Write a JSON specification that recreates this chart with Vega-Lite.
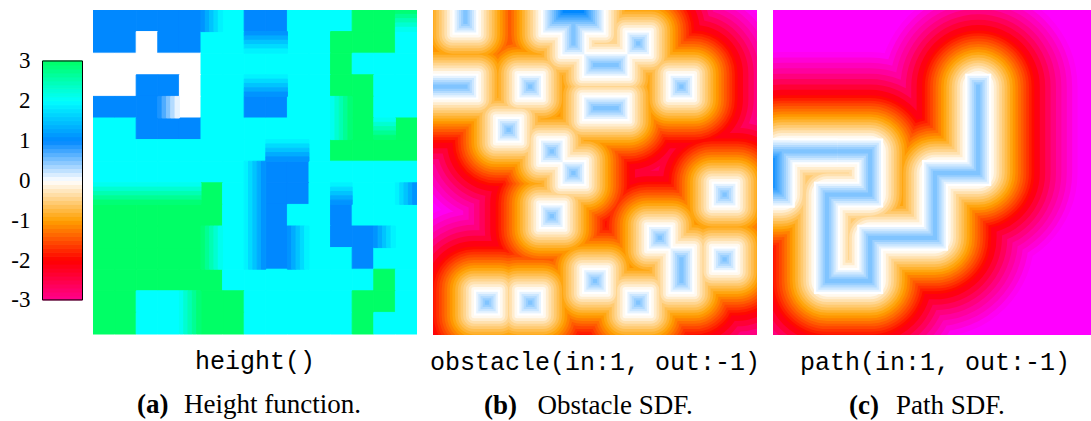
{"$schema":"https://vega.github.io/schema/vega-lite/v6.json","padding":{"left":10,"top":10,"right":0,"bottom":4},"bounds":"flush","spacing":16,"background":"white","config":{"view":{"stroke":null},"legend":{"disable":true}},
"datasets":{
"cells":[
{"x":0,"x2":1,"y":0,"y2":1,"v":1},{"x":1,"x2":2,"y":0,"y2":1,"v":1},{"x":2,"x2":3,"y":0,"y2":1,"v":1},{"x":3,"x2":4,"y":0,"y2":1,"v":1},{"x":4,"x2":5,"y":0,"y2":1,"v":1},{"x":6,"x2":7,"y":0,"y2":1,"v":2},{"x":7,"x2":8,"y":0,"y2":1,"v":1},{"x":8,"x2":9,"y":0,"y2":1,"v":1},{"x":9,"x2":10,"y":0,"y2":1,"v":2},{"x":10,"x2":11,"y":0,"y2":1,"v":2},{"x":11,"x2":12,"y":0,"y2":1,"v":2},{"x":12,"x2":13,"y":0,"y2":1,"v":3},{"x":13,"x2":14,"y":0,"y2":1,"v":3},
{"x":0,"x2":1,"y":1,"y2":2,"v":1},{"x":1,"x2":2,"y":1,"y2":2,"v":1},{"x":2,"x2":3,"y":1,"y2":2,"v":0},{"x":3,"x2":4,"y":1,"y2":2,"v":1},{"x":4,"x2":5,"y":1,"y2":2,"v":1},{"x":5,"x2":6,"y":1,"y2":2,"v":2},{"x":6,"x2":7,"y":1,"y2":2,"v":2},{"x":9,"x2":10,"y":1,"y2":2,"v":2},{"x":10,"x2":11,"y":1,"y2":2,"v":2},{"x":11,"x2":12,"y":1,"y2":2,"v":3},{"x":12,"x2":13,"y":1,"y2":2,"v":3},{"x":13,"x2":14,"y":1,"y2":2,"v":3},{"x":14,"x2":15,"y":1,"y2":2,"v":2},
{"x":0,"x2":1,"y":2,"y2":3,"v":0},{"x":1,"x2":2,"y":2,"y2":3,"v":0},{"x":2,"x2":3,"y":2,"y2":3,"v":0},{"x":3,"x2":4,"y":2,"y2":3,"v":0},{"x":4,"x2":5,"y":2,"y2":3,"v":0},{"x":5,"x2":6,"y":2,"y2":3,"v":2},{"x":6,"x2":7,"y":2,"y2":3,"v":2},{"x":7,"x2":8,"y":2,"y2":3,"v":2},{"x":8,"x2":9,"y":2,"y2":3,"v":2},{"x":9,"x2":10,"y":2,"y2":3,"v":2},{"x":10,"x2":11,"y":2,"y2":3,"v":2},{"x":11,"x2":12,"y":2,"y2":3,"v":3},{"x":12,"x2":13,"y":2,"y2":3,"v":2},{"x":13,"x2":14,"y":2,"y2":3,"v":2},{"x":14,"x2":15,"y":2,"y2":3,"v":2},
{"x":0,"x2":1,"y":3,"y2":4,"v":0},{"x":1,"x2":2,"y":3,"y2":4,"v":0},{"x":2,"x2":3,"y":3,"y2":4,"v":1},{"x":3,"x2":4,"y":3,"y2":4,"v":1},{"x":4,"x2":5,"y":3,"y2":4,"v":0},{"x":5,"x2":6,"y":3,"y2":4,"v":2},{"x":6,"x2":7,"y":3,"y2":4,"v":2},{"x":9,"x2":10,"y":3,"y2":4,"v":2},{"x":10,"x2":11,"y":3,"y2":4,"v":2},{"x":11,"x2":12,"y":3,"y2":4,"v":3},{"x":12,"x2":13,"y":3,"y2":4,"v":3},{"x":13,"x2":14,"y":3,"y2":4,"v":2},{"x":14,"x2":15,"y":3,"y2":4,"v":2},
{"x":0,"x2":1,"y":4,"y2":5,"v":1},{"x":1,"x2":2,"y":4,"y2":5,"v":1},{"x":2,"x2":3,"y":4,"y2":5,"v":1},{"x":4,"x2":5,"y":4,"y2":5,"v":0},{"x":5,"x2":6,"y":4,"y2":5,"v":2},{"x":6,"x2":7,"y":4,"y2":5,"v":2},{"x":7,"x2":8,"y":4,"y2":5,"v":1},{"x":8,"x2":9,"y":4,"y2":5,"v":1},{"x":9,"x2":10,"y":4,"y2":5,"v":2},{"x":10,"x2":11,"y":4,"y2":5,"v":2},{"x":12,"x2":13,"y":4,"y2":5,"v":3},{"x":13,"x2":14,"y":4,"y2":5,"v":2},{"x":14,"x2":15,"y":4,"y2":5,"v":2},
{"x":0,"x2":1,"y":5,"y2":6,"v":2},{"x":1,"x2":2,"y":5,"y2":6,"v":2},{"x":2,"x2":3,"y":5,"y2":6,"v":1},{"x":3,"x2":4,"y":5,"y2":6,"v":1},{"x":4,"x2":5,"y":5,"y2":6,"v":1},{"x":5,"x2":6,"y":5,"y2":6,"v":2},{"x":6,"x2":7,"y":5,"y2":6,"v":2},{"x":7,"x2":8,"y":5,"y2":6,"v":2},{"x":8,"x2":9,"y":5,"y2":6,"v":2},{"x":9,"x2":10,"y":5,"y2":6,"v":2},{"x":10,"x2":11,"y":5,"y2":6,"v":2},{"x":12,"x2":13,"y":5,"y2":6,"v":3},{"x":14,"x2":15,"y":5,"y2":6,"v":3},
{"x":0,"x2":1,"y":6,"y2":7,"v":2},{"x":1,"x2":2,"y":6,"y2":7,"v":2},{"x":2,"x2":3,"y":6,"y2":7,"v":2},{"x":3,"x2":4,"y":6,"y2":7,"v":2},{"x":4,"x2":5,"y":6,"y2":7,"v":2},{"x":5,"x2":6,"y":6,"y2":7,"v":2},{"x":6,"x2":7,"y":6,"y2":7,"v":2},{"x":7,"x2":8,"y":6,"y2":7,"v":2},{"x":10,"x2":11,"y":6,"y2":7,"v":2},{"x":11,"x2":12,"y":6,"y2":7,"v":3},{"x":12,"x2":13,"y":6,"y2":7,"v":3},{"x":13,"x2":14,"y":6,"y2":7,"v":3},{"x":14,"x2":15,"y":6,"y2":7,"v":3},
{"x":0,"x2":1,"y":7,"y2":8,"v":2},{"x":1,"x2":2,"y":7,"y2":8,"v":2},{"x":2,"x2":3,"y":7,"y2":8,"v":2},{"x":3,"x2":4,"y":7,"y2":8,"v":2},{"x":4,"x2":5,"y":7,"y2":8,"v":2},{"x":5,"x2":6,"y":7,"y2":8,"v":2},{"x":6,"x2":7,"y":7,"y2":8,"v":2},{"x":8,"x2":9,"y":7,"y2":8,"v":1},{"x":9,"x2":10,"y":7,"y2":8,"v":1},{"x":10,"x2":11,"y":7,"y2":8,"v":2},{"x":11,"x2":12,"y":7,"y2":8,"v":2},{"x":12,"x2":13,"y":7,"y2":8,"v":2},{"x":13,"x2":14,"y":7,"y2":8,"v":2},{"x":14,"x2":15,"y":7,"y2":8,"v":2},
{"x":5,"x2":6,"y":8,"y2":9,"v":3},{"x":6,"x2":7,"y":8,"y2":9,"v":2},{"x":8,"x2":9,"y":8,"y2":9,"v":1},{"x":9,"x2":10,"y":8,"y2":9,"v":1},{"x":10,"x2":11,"y":8,"y2":9,"v":2},{"x":12,"x2":13,"y":8,"y2":9,"v":2},{"x":13,"x2":14,"y":8,"y2":9,"v":2},
{"x":0,"x2":1,"y":9,"y2":10,"v":3},{"x":1,"x2":2,"y":9,"y2":10,"v":3},{"x":2,"x2":3,"y":9,"y2":10,"v":3},{"x":3,"x2":4,"y":9,"y2":10,"v":3},{"x":4,"x2":5,"y":9,"y2":10,"v":3},{"x":5,"x2":6,"y":9,"y2":10,"v":3},{"x":6,"x2":7,"y":9,"y2":10,"v":2},{"x":8,"x2":9,"y":9,"y2":10,"v":1},{"x":9,"x2":10,"y":9,"y2":10,"v":2},{"x":10,"x2":11,"y":9,"y2":10,"v":2},{"x":11,"x2":12,"y":9,"y2":10,"v":1},{"x":12,"x2":13,"y":9,"y2":10,"v":2},{"x":13,"x2":14,"y":9,"y2":10,"v":2},{"x":14,"x2":15,"y":9,"y2":10,"v":2},
{"x":0,"x2":1,"y":10,"y2":11,"v":3},{"x":1,"x2":2,"y":10,"y2":11,"v":3},{"x":2,"x2":3,"y":10,"y2":11,"v":3},{"x":3,"x2":4,"y":10,"y2":11,"v":3},{"x":4,"x2":5,"y":10,"y2":11,"v":3},{"x":6,"x2":7,"y":10,"y2":11,"v":2},{"x":8,"x2":9,"y":10,"y2":11,"v":1},{"x":10,"x2":11,"y":10,"y2":11,"v":2},{"x":11,"x2":12,"y":10,"y2":11,"v":1},{"x":12,"x2":13,"y":10,"y2":11,"v":1},{"x":14,"x2":15,"y":10,"y2":11,"v":2},
{"x":0,"x2":1,"y":11,"y2":12,"v":3},{"x":1,"x2":2,"y":11,"y2":12,"v":3},{"x":2,"x2":3,"y":11,"y2":12,"v":3},{"x":3,"x2":4,"y":11,"y2":12,"v":3},{"x":4,"x2":5,"y":11,"y2":12,"v":3},{"x":6,"x2":7,"y":11,"y2":12,"v":2},{"x":8,"x2":9,"y":11,"y2":12,"v":1},{"x":10,"x2":11,"y":11,"y2":12,"v":2},{"x":11,"x2":12,"y":11,"y2":12,"v":2},{"x":12,"x2":13,"y":11,"y2":12,"v":1},{"x":13,"x2":14,"y":11,"y2":12,"v":2},{"x":14,"x2":15,"y":11,"y2":12,"v":2},
{"x":0,"x2":1,"y":12,"y2":13,"v":3},{"x":1,"x2":2,"y":12,"y2":13,"v":3},{"x":2,"x2":3,"y":12,"y2":13,"v":3},{"x":3,"x2":4,"y":12,"y2":13,"v":3},{"x":4,"x2":5,"y":12,"y2":13,"v":3},{"x":5,"x2":6,"y":12,"y2":13,"v":3},{"x":6,"x2":7,"y":12,"y2":13,"v":2},{"x":7,"x2":8,"y":12,"y2":13,"v":2},{"x":8,"x2":9,"y":12,"y2":13,"v":2},{"x":9,"x2":10,"y":12,"y2":13,"v":2},{"x":10,"x2":11,"y":12,"y2":13,"v":2},{"x":11,"x2":12,"y":12,"y2":13,"v":2},{"x":12,"x2":13,"y":12,"y2":13,"v":2},{"x":13,"x2":14,"y":12,"y2":13,"v":3},{"x":14,"x2":15,"y":12,"y2":13,"v":2},
{"x":0,"x2":1,"y":13,"y2":14,"v":3},{"x":1,"x2":2,"y":13,"y2":14,"v":3},{"x":2,"x2":3,"y":13,"y2":14,"v":2},{"x":3,"x2":4,"y":13,"y2":14,"v":2},{"x":5,"x2":6,"y":13,"y2":14,"v":3},{"x":6,"x2":7,"y":13,"y2":14,"v":3},{"x":7,"x2":8,"y":13,"y2":14,"v":2},{"x":8,"x2":9,"y":13,"y2":14,"v":2},{"x":9,"x2":10,"y":13,"y2":14,"v":2},{"x":10,"x2":11,"y":13,"y2":14,"v":2},{"x":11,"x2":12,"y":13,"y2":14,"v":2},{"x":12,"x2":13,"y":13,"y2":14,"v":3},{"x":13,"x2":14,"y":13,"y2":14,"v":3},{"x":14,"x2":15,"y":13,"y2":14,"v":2},
{"x":0,"x2":1,"y":14,"y2":15,"v":3},{"x":1,"x2":2,"y":14,"y2":15,"v":3},{"x":2,"x2":3,"y":14,"y2":15,"v":2},{"x":3,"x2":4,"y":14,"y2":15,"v":2},{"x":5,"x2":6,"y":14,"y2":15,"v":3},{"x":6,"x2":7,"y":14,"y2":15,"v":3},{"x":7,"x2":8,"y":14,"y2":15,"v":2},{"x":8,"x2":9,"y":14,"y2":15,"v":2},{"x":9,"x2":10,"y":14,"y2":15,"v":2},{"x":10,"x2":11,"y":14,"y2":15,"v":2},{"x":11,"x2":12,"y":14,"y2":15,"v":2},{"x":12,"x2":13,"y":14,"y2":15,"v":3},{"x":13,"x2":14,"y":14,"y2":15,"v":2},{"x":14,"x2":15,"y":14,"y2":15,"v":2},
{"x":5,"x2":5.2,"y":0,"y2":1,"v":1.1},{"x":5.2,"x2":5.4,"y":0,"y2":1,"v":1.3},{"x":5.4,"x2":5.6,"y":0,"y2":1,"v":1.5},{"x":5.6,"x2":5.8,"y":0,"y2":1,"v":1.7},{"x":5.8,"x2":6,"y":0,"y2":1,"v":1.9},
{"x":14,"x2":15,"y":0,"y2":0.2,"v":2.9},{"x":14,"x2":15,"y":0.2,"y2":0.4,"v":2.7},{"x":14,"x2":15,"y":0.4,"y2":0.6,"v":2.5},{"x":14,"x2":15,"y":0.6,"y2":0.8,"v":2.3},{"x":14,"x2":15,"y":0.8,"y2":1,"v":2.1},
{"x":7,"x2":9,"y":1,"y2":1.2,"v":1.1},{"x":7,"x2":9,"y":1.2,"y2":1.4,"v":1.3},{"x":7,"x2":9,"y":1.4,"y2":1.6,"v":1.5},{"x":7,"x2":9,"y":1.6,"y2":1.8,"v":1.7},{"x":7,"x2":9,"y":1.8,"y2":2,"v":1.9},
{"x":7,"x2":9,"y":3,"y2":3.2,"v":1.9},{"x":7,"x2":9,"y":3.2,"y2":3.4,"v":1.7},{"x":7,"x2":9,"y":3.4,"y2":3.6,"v":1.5},{"x":7,"x2":9,"y":3.6,"y2":3.8,"v":1.3},{"x":7,"x2":9,"y":3.8,"y2":4,"v":1.1},
{"x":3,"x2":3.2,"y":4,"y2":5,"v":0.9},{"x":3.2,"x2":3.4,"y":4,"y2":5,"v":0.7},{"x":3.4,"x2":3.6,"y":4,"y2":5,"v":0.5},{"x":3.6,"x2":3.8,"y":4,"y2":5,"v":0.3},{"x":3.8,"x2":4,"y":4,"y2":5,"v":0.1},
{"x":11,"x2":11.2,"y":4,"y2":6,"v":2.1},{"x":11.2,"x2":11.4,"y":4,"y2":6,"v":2.3},{"x":11.4,"x2":11.6,"y":4,"y2":6,"v":2.5},{"x":11.6,"x2":11.8,"y":4,"y2":6,"v":2.7},{"x":11.8,"x2":12,"y":4,"y2":6,"v":2.9},
{"x":13,"x2":14,"y":5,"y2":5.2,"v":2.1},{"x":13,"x2":14,"y":5.2,"y2":5.4,"v":2.3},{"x":13,"x2":14,"y":5.4,"y2":5.6,"v":2.5},{"x":13,"x2":14,"y":5.6,"y2":5.8,"v":2.7},{"x":13,"x2":14,"y":5.8,"y2":6,"v":2.9},
{"x":8,"x2":10,"y":6,"y2":6.2,"v":1.9},{"x":8,"x2":10,"y":6.2,"y2":6.4,"v":1.7},{"x":8,"x2":10,"y":6.4,"y2":6.6,"v":1.5},{"x":8,"x2":10,"y":6.6,"y2":6.8,"v":1.3},{"x":8,"x2":10,"y":6.8,"y2":7,"v":1.1},
{"x":7,"x2":7.2,"y":7,"y2":12,"v":1.9},{"x":7.2,"x2":7.4,"y":7,"y2":12,"v":1.7},{"x":7.4,"x2":7.6,"y":7,"y2":12,"v":1.5},{"x":7.6,"x2":7.8,"y":7,"y2":12,"v":1.3},{"x":7.8,"x2":8,"y":7,"y2":12,"v":1.1},
{"x":0,"x2":5,"y":8,"y2":8.2,"v":2.1},{"x":0,"x2":5,"y":8.2,"y2":8.4,"v":2.3},{"x":0,"x2":5,"y":8.4,"y2":8.6,"v":2.5},{"x":0,"x2":5,"y":8.6,"y2":8.8,"v":2.7},{"x":0,"x2":5,"y":8.8,"y2":9,"v":2.9},
{"x":11,"x2":12,"y":8,"y2":8.2,"v":1.9},{"x":11,"x2":12,"y":8.2,"y2":8.4,"v":1.7},{"x":11,"x2":12,"y":8.4,"y2":8.6,"v":1.5},{"x":11,"x2":12,"y":8.6,"y2":8.8,"v":1.3},{"x":11,"x2":12,"y":8.8,"y2":9,"v":1.1},
{"x":14,"x2":14.2,"y":8,"y2":9,"v":1.9},{"x":14.2,"x2":14.4,"y":8,"y2":9,"v":1.7},{"x":14.4,"x2":14.6,"y":8,"y2":9,"v":1.5},{"x":14.6,"x2":14.8,"y":8,"y2":9,"v":1.3},{"x":14.8,"x2":15,"y":8,"y2":9,"v":1.1},
{"x":5,"x2":5.2,"y":10,"y2":12,"v":2.9},{"x":5.2,"x2":5.4,"y":10,"y2":12,"v":2.7},{"x":5.4,"x2":5.6,"y":10,"y2":12,"v":2.5},{"x":5.6,"x2":5.8,"y":10,"y2":12,"v":2.3},{"x":5.8,"x2":6,"y":10,"y2":12,"v":2.1},
{"x":9,"x2":9.2,"y":10,"y2":12,"v":1.1},{"x":9.2,"x2":9.4,"y":10,"y2":12,"v":1.3},{"x":9.4,"x2":9.6,"y":10,"y2":12,"v":1.5},{"x":9.6,"x2":9.8,"y":10,"y2":12,"v":1.7},{"x":9.8,"x2":10,"y":10,"y2":12,"v":1.9},
{"x":13,"x2":13.2,"y":10,"y2":11,"v":1.1},{"x":13.2,"x2":13.4,"y":10,"y2":11,"v":1.3},{"x":13.4,"x2":13.6,"y":10,"y2":11,"v":1.5},{"x":13.6,"x2":13.8,"y":10,"y2":11,"v":1.7},{"x":13.8,"x2":14,"y":10,"y2":11,"v":1.9},
{"x":4,"x2":4.2,"y":13,"y2":15,"v":2.1},{"x":4.2,"x2":4.4,"y":13,"y2":15,"v":2.3},{"x":4.4,"x2":4.6,"y":13,"y2":15,"v":2.5},{"x":4.6,"x2":4.8,"y":13,"y2":15,"v":2.7},{"x":4.8,"x2":5,"y":13,"y2":15,"v":2.9}
],
"bar":[{"a":-3,"b":-2.9,"c":-2.95},{"a":-2.9,"b":-2.8,"c":-2.85},{"a":-2.8,"b":-2.7,"c":-2.75},{"a":-2.7,"b":-2.6,"c":-2.65},{"a":-2.6,"b":-2.5,"c":-2.55},{"a":-2.5,"b":-2.4,"c":-2.45},{"a":-2.4,"b":-2.3,"c":-2.35},{"a":-2.3,"b":-2.2,"c":-2.25},{"a":-2.2,"b":-2.1,"c":-2.15},{"a":-2.1,"b":-2,"c":-2.05},{"a":-2,"b":-1.9,"c":-1.95},{"a":-1.9,"b":-1.8,"c":-1.85},{"a":-1.8,"b":-1.7,"c":-1.75},{"a":-1.7,"b":-1.6,"c":-1.65},{"a":-1.6,"b":-1.5,"c":-1.55},{"a":-1.5,"b":-1.4,"c":-1.45},{"a":-1.4,"b":-1.3,"c":-1.35},{"a":-1.3,"b":-1.2,"c":-1.25},{"a":-1.2,"b":-1.1,"c":-1.15},{"a":-1.1,"b":-1,"c":-1.05},{"a":-1,"b":-0.9,"c":-0.95},{"a":-0.9,"b":-0.8,"c":-0.85},{"a":-0.8,"b":-0.7,"c":-0.75},{"a":-0.7,"b":-0.6,"c":-0.65},{"a":-0.6,"b":-0.5,"c":-0.55},{"a":-0.5,"b":-0.4,"c":-0.45},{"a":-0.4,"b":-0.3,"c":-0.35},{"a":-0.3,"b":-0.2,"c":-0.25},{"a":-0.2,"b":-0.1,"c":-0.15},{"a":-0.1,"b":0,"c":-0.05},{"a":0,"b":0.1,"c":0.05},{"a":0.1,"b":0.2,"c":0.15},{"a":0.2,"b":0.3,"c":0.25},{"a":0.3,"b":0.4,"c":0.35},{"a":0.4,"b":0.5,"c":0.45},{"a":0.5,"b":0.6,"c":0.55},{"a":0.6,"b":0.7,"c":0.65},{"a":0.7,"b":0.8,"c":0.75},{"a":0.8,"b":0.9,"c":0.85},{"a":0.9,"b":1,"c":0.95},{"a":1,"b":1.1,"c":1.05},{"a":1.1,"b":1.2,"c":1.15},{"a":1.2,"b":1.3,"c":1.25},{"a":1.3,"b":1.4,"c":1.35},{"a":1.4,"b":1.5,"c":1.45},{"a":1.5,"b":1.6,"c":1.55},{"a":1.6,"b":1.7,"c":1.65},{"a":1.7,"b":1.8,"c":1.75},{"a":1.8,"b":1.9,"c":1.85},{"a":1.9,"b":2,"c":1.95},{"a":2,"b":2.1,"c":2.05},{"a":2.1,"b":2.2,"c":2.15},{"a":2.2,"b":2.3,"c":2.25},{"a":2.3,"b":2.4,"c":2.35},{"a":2.4,"b":2.5,"c":2.45},{"a":2.5,"b":2.6,"c":2.55},{"a":2.6,"b":2.7,"c":2.65},{"a":2.7,"b":2.8,"c":2.75},{"a":2.8,"b":2.9,"c":2.85},{"a":2.9,"b":3,"c":2.95}],
"obst":[
{"l":0.9,"r":2.1,"t":-2,"b":1.1,"mx":1.5,"mx2":1.5,"my":-1,"my2":0.5},
{"l":-2,"r":2.1,"t":2.9,"b":4.1,"mx":-1,"mx2":1.5,"my":3.5,"my2":3.5},
{"l":3.9,"r":5.1,"t":2.9,"b":4.1,"mx":4.5,"mx2":4.5,"my":3.5,"my2":3.5},
{"l":2.9,"r":4.1,"t":4.9,"b":6.1,"mx":3.5,"mx2":3.5,"my":5.5,"my2":5.5},
{"l":4.9,"r":6.1,"t":5.9,"b":7.1,"mx":5.5,"mx2":5.5,"my":6.5,"my2":6.5},
{"l":5.9,"r":7.1,"t":6.9,"b":8.1,"mx":6.5,"mx2":6.5,"my":7.5,"my2":7.5},
{"l":5.9,"r":7.1,"t":-1,"b":2.1,"mx":6.5,"mx2":6.5,"my":0,"my2":1.5},
{"l":5,"r":8,"t":-1.5,"b":1.1},
{"l":8.9,"r":10.1,"t":0.9,"b":2.1,"mx":9.5,"mx2":9.5,"my":1.5,"my2":1.5},
{"l":10.9,"r":12.1,"t":2.9,"b":4.1,"mx":11.5,"mx2":11.5,"my":3.5,"my2":3.5},
{"l":6.9,"r":9.1,"t":1.9,"b":3.1,"mx":7.5,"mx2":8.5,"my":2.5,"my2":2.5},
{"l":6.9,"r":9.1,"t":3.9,"b":5.1,"mx":7.5,"mx2":8.5,"my":4.5,"my2":4.5},
{"l":4.9,"r":6.1,"t":8.9,"b":10.1,"mx":5.5,"mx2":5.5,"my":9.5,"my2":9.5},
{"l":1.9,"r":3.1,"t":12.9,"b":14.1,"mx":2.5,"mx2":2.5,"my":13.5,"my2":13.5},
{"l":3.9,"r":5.1,"t":12.9,"b":14.1,"mx":4.5,"mx2":4.5,"my":13.5,"my2":13.5},
{"l":6.9,"r":8.1,"t":11.9,"b":13.1,"mx":7.5,"mx2":7.5,"my":12.5,"my2":12.5},
{"l":8.9,"r":10.1,"t":12.9,"b":14.1,"mx":9.5,"mx2":9.5,"my":13.5,"my2":13.5},
{"l":9.9,"r":11.1,"t":9.9,"b":11.1,"mx":10.5,"mx2":10.5,"my":10.5,"my2":10.5},
{"l":10.9,"r":12.1,"t":10.9,"b":13.1,"mx":11.5,"mx2":11.5,"my":11.5,"my2":12.5},
{"l":12.9,"r":14.1,"t":10.9,"b":12.1,"mx":13.5,"mx2":13.5,"my":11.5,"my2":11.5},
{"l":12.9,"r":14.1,"t":7.9,"b":9.1,"mx":13.5,"mx2":13.5,"my":8.5,"my2":8.5}
],
"bnest":[{"l":5.1,"r":7.9,"t":-1.5,"b":1,"v":0.1},{"l":6,"r":7,"t":0.5,"b":2,"v":0.1},{"l":5.2,"r":7.8,"t":-1.5,"b":0.9,"v":0.2},{"l":6.1,"r":6.9,"t":0.5,"b":1.9,"v":0.2},{"l":5.3,"r":7.7,"t":-1.5,"b":0.8,"v":0.3},{"l":6.2,"r":6.8,"t":0.5,"b":1.8,"v":0.3},{"l":5.4,"r":7.6,"t":-1.5,"b":0.7,"v":0.4},{"l":6.3,"r":6.7,"t":0.5,"b":1.7,"v":0.4},{"l":5.5,"r":7.5,"t":-1.5,"b":0.6,"v":0.5},{"l":6.4,"r":6.6,"t":0.5,"b":1.6,"v":0.5},{"l":5.6,"r":7.4,"t":-1.5,"b":0.5,"v":0.6},{"l":5.7,"r":7.3,"t":-1.5,"b":0.4,"v":0.7},{"l":5.8,"r":7.2,"t":-1.5,"b":0.3,"v":0.8},{"l":5.9,"r":7.1,"t":-1.5,"b":0.2,"v":0.9},{"l":6,"r":7,"t":-1.5,"b":0.1,"v":1}],
"cnest":[{"l":-1,"r":1,"t":5.9,"b":9.1,"v":0},{"l":0,"r":3,"t":5.9,"b":7.1,"v":0},{"l":-1,"r":0.9,"t":6,"b":9,"v":0.1},{"l":0,"r":3,"t":6,"b":7,"v":0.1},{"l":-1,"r":0.8,"t":6.1,"b":8.9,"v":0.2},{"l":0,"r":3,"t":6.1,"b":6.9,"v":0.2},{"l":-1,"r":0.7,"t":6.2,"b":8.8,"v":0.3},{"l":0,"r":3,"t":6.2,"b":6.8,"v":0.3},{"l":-1,"r":0.6,"t":6.3,"b":8.7,"v":0.4},{"l":0,"r":3,"t":6.3,"b":6.7,"v":0.4},{"l":-1,"r":0.5,"t":6.4,"b":8.6,"v":0.5},{"l":0,"r":3,"t":6.4,"b":6.6,"v":0.5},{"l":-1,"r":0.4,"t":6.5,"b":8.5,"v":0.6},{"l":-1,"r":0.3,"t":6.6,"b":8.4,"v":0.7},{"l":-1,"r":0.2,"t":6.7,"b":8.3,"v":0.8},{"l":-1,"r":0.1,"t":6.8,"b":8.2,"v":0.9},{"l":-1,"r":0,"t":6.9,"b":8.1,"v":1}],
"path":[{"i":0,"x":9.5,"y":3.5},{"i":1,"x":9.5,"y":7.5},{"i":2,"x":7.5,"y":7.5},{"i":3,"x":7.5,"y":10.5},{"i":4,"x":4.5,"y":10.5},{"i":5,"x":4.5,"y":12.5},{"i":6,"x":2.5,"y":12.5},{"i":7,"x":2.5,"y":8.5},{"i":8,"x":4.5,"y":8.5},{"i":9,"x":4.5,"y":6.5},{"i":10,"x":0.4,"y":6.5},{"i":11,"x":0.4,"y":8.5},{"i":12,"x":-1,"y":8.5}]
},
"hconcat":[
{"width":34,"height":325,"layer":[
{"data":{"name":"bar"},"mark":{"type":"rect","strokeWidth":1},"encoding":{"x":{"datum":-0.5,"type":"quantitative","scale":{"domain":[0,34]},"axis":null},"x2":{"datum":39.5},"y":{"field":"a","type":"quantitative","scale":{"domain":[-3.88,4.28]},"axis":{"values":[-3,-2,-1,0,1,2,3],"title":null,"ticks":false,"domain":false,"grid":false,"labelFont":"Liberation Serif","labelFontSize":23,"labelColor":"#000","labelPadding":13,"labelExpr":"''+datum.value"}},"y2":{"field":"b"},"color":{"field":"c","type":"quantitative","scale":{"domain":[-4,-3,-2,-1,0,1,2,3],"range":["#ff00ff","#ff0090","#ff0000","#ffa000","#ffffff","#0088ff","#00ffff","#00ff66"],"interpolate":"rgb"}},"stroke":{"field":"c","type":"quantitative","scale":{"domain":[-4,-3,-2,-1,0,1,2,3],"range":["#ff00ff","#ff0090","#ff0000","#ffa000","#ffffff","#0088ff","#00ffff","#00ff66"],"interpolate":"rgb"}}}},
{"data":{"values":[{"a":-3,"b":3}]},"mark":{"type":"rect","filled":false,"stroke":"#000","strokeWidth":1},"encoding":{"x":{"datum":-0.5,"type":"quantitative","scale":{"domain":[0,34]},"axis":null},"x2":{"datum":39.5},"y":{"field":"a","type":"quantitative","scale":{"domain":[-3.88,4.28]}},"y2":{"field":"b"}}}
]},
{"width":324,"height":325,"layer":[
{"data":{"name":"cells"},"mark":{"type":"rect","clip":true,"strokeWidth":1},"encoding":{"x":{"field":"x","type":"quantitative","scale":{"domain":[0,15]},"axis":null},"x2":{"field":"x2"},"y":{"field":"y","type":"quantitative","scale":{"domain":[0,15.046],"reverse":true},"axis":null},"y2":{"field":"y2"},"color":{"field":"v","type":"quantitative","scale":{"domain":[-4,-3,-2,-1,0,1,2,3],"range":["#ff00ff","#ff0090","#ff0000","#ffa000","#ffffff","#0088ff","#00ffff","#00ff66"],"interpolate":"rgb"}},"stroke":{"field":"v","type":"quantitative","scale":{"domain":[-4,-3,-2,-1,0,1,2,3],"range":["#ff00ff","#ff0090","#ff0000","#ffa000","#ffffff","#0088ff","#00ffff","#00ff66"],"interpolate":"rgb"}}}},
{"data":{"values":[{"x":7.5,"y":16.62,"t":"height()"}]},"mark":{"type":"text","font":"Liberation Mono","fontSize":25,"align":"center","baseline":"alphabetic","color":"#000"},"encoding":{"x":{"field":"x","type":"quantitative","scale":{"domain":[0,15]},"axis":null},"y":{"field":"y","type":"quantitative","scale":{"domain":[0,15.046],"reverse":true},"axis":null},"text":{"field":"t"}}},
{"data":{"values":[{"x":2.04,"y":18.68,"t":"(a)"}]},"mark":{"type":"text","font":"Liberation Serif","fontWeight":"bold","fontSize":27,"align":"left","baseline":"alphabetic","color":"#000"},"encoding":{"x":{"field":"x","type":"quantitative","scale":{"domain":[0,15]},"axis":null},"y":{"field":"y","type":"quantitative","scale":{"domain":[0,15.046],"reverse":true},"axis":null},"text":{"field":"t"}}},
{"data":{"values":[{"x":4.21,"y":18.68,"t":"Height function."}]},"mark":{"type":"text","font":"Liberation Serif","fontSize":27,"align":"left","baseline":"alphabetic","color":"#000"},"encoding":{"x":{"field":"x","type":"quantitative","scale":{"domain":[0,15]},"axis":null},"y":{"field":"y","type":"quantitative","scale":{"domain":[0,15.046],"reverse":true},"axis":null},"text":{"field":"t"}}}
]},
{"width":324,"height":325,"view":{"fill":"#ff00ff"},"layer":[
{"data":{"name":"obst"},"encoding":{"x":{"field":"l","type":"quantitative","scale":{"domain":[0,15]},"axis":null},"x2":{"field":"r"},"y":{"field":"t","type":"quantitative","scale":{"domain":[-0.046,15],"reverse":true},"axis":null},"y2":{"field":"b"}},"layer":[
{"mark":{"type":"rect","filled":false,"clip":true,"strokeJoin":"round","strokeWidth":194.4},"encoding":{"color":{"datum":-4.375,"scale":{"domain":[-4,-3,-2,-1,0,1,2,3],"range":["#ff00ff","#ff0090","#ff0000","#ffa000","#ffffff","#0088ff","#00ffff","#00ff66"],"clamp":true,"interpolate":"rgb"}}}},
{"mark":{"type":"rect","filled":false,"clip":true,"strokeJoin":"round","strokeWidth":183.6},"encoding":{"color":{"datum":-4.125}}},
{"mark":{"type":"rect","filled":false,"clip":true,"strokeJoin":"round","strokeWidth":172.8},"encoding":{"color":{"datum":-3.875}}},
{"mark":{"type":"rect","filled":false,"clip":true,"strokeJoin":"round","strokeWidth":162},"encoding":{"color":{"datum":-3.625}}},
{"mark":{"type":"rect","filled":false,"clip":true,"strokeJoin":"round","strokeWidth":151.2},"encoding":{"color":{"datum":-3.375}}},
{"mark":{"type":"rect","filled":false,"clip":true,"strokeJoin":"round","strokeWidth":140.4},"encoding":{"color":{"datum":-3.125}}},
{"mark":{"type":"rect","filled":false,"clip":true,"strokeJoin":"round","strokeWidth":129.6},"encoding":{"color":{"datum":-2.875}}},
{"mark":{"type":"rect","filled":false,"clip":true,"strokeJoin":"round","strokeWidth":118.8},"encoding":{"color":{"datum":-2.625}}},
{"mark":{"type":"rect","filled":false,"clip":true,"strokeJoin":"round","strokeWidth":108},"encoding":{"color":{"datum":-2.375}}},
{"mark":{"type":"rect","filled":false,"clip":true,"strokeJoin":"round","strokeWidth":97.2},"encoding":{"color":{"datum":-2.125}}},
{"mark":{"type":"rect","filled":false,"clip":true,"strokeJoin":"round","strokeWidth":86.4},"encoding":{"color":{"datum":-1.9375}}},
{"mark":{"type":"rect","filled":false,"clip":true,"strokeJoin":"round","strokeWidth":81},"encoding":{"color":{"datum":-1.8125}}},
{"mark":{"type":"rect","filled":false,"clip":true,"strokeJoin":"round","strokeWidth":75.6},"encoding":{"color":{"datum":-1.6875}}},
{"mark":{"type":"rect","filled":false,"clip":true,"strokeJoin":"round","strokeWidth":70.2},"encoding":{"color":{"datum":-1.5625}}},
{"mark":{"type":"rect","filled":false,"clip":true,"strokeJoin":"round","strokeWidth":64.8},"encoding":{"color":{"datum":-1.4375}}},
{"mark":{"type":"rect","filled":false,"clip":true,"strokeJoin":"round","strokeWidth":59.4},"encoding":{"color":{"datum":-1.3125}}},
{"mark":{"type":"rect","filled":false,"clip":true,"strokeJoin":"round","strokeWidth":54},"encoding":{"color":{"datum":-1.1875}}},
{"mark":{"type":"rect","filled":false,"clip":true,"strokeJoin":"round","strokeWidth":48.6},"encoding":{"color":{"datum":-1.0625}}},
{"mark":{"type":"rect","filled":false,"clip":true,"strokeJoin":"round","strokeWidth":43.2},"encoding":{"color":{"datum":-0.9375}}},
{"mark":{"type":"rect","filled":false,"clip":true,"strokeJoin":"round","strokeWidth":37.8},"encoding":{"color":{"datum":-0.8125}}},
{"mark":{"type":"rect","filled":false,"clip":true,"strokeJoin":"round","strokeWidth":32.4},"encoding":{"color":{"datum":-0.6875}}},
{"mark":{"type":"rect","filled":false,"clip":true,"strokeJoin":"round","strokeWidth":27},"encoding":{"color":{"datum":-0.5625}}},
{"mark":{"type":"rect","filled":false,"clip":true,"strokeJoin":"round","strokeWidth":21.6},"encoding":{"color":{"datum":-0.4375}}},
{"mark":{"type":"rect","filled":false,"clip":true,"strokeJoin":"round","strokeWidth":16.2},"encoding":{"color":{"datum":-0.3125}}},
{"mark":{"type":"rect","filled":false,"clip":true,"strokeJoin":"round","strokeWidth":10.8},"encoding":{"color":{"datum":-0.1875}}},
{"mark":{"type":"rect","filled":false,"clip":true,"strokeJoin":"round","strokeWidth":5.4},"encoding":{"color":{"datum":-0.0625}}},
{"mark":{"type":"rect","clip":true},"encoding":{"color":{"datum":0}}}
]},
{"data":{"name":"obst"},"encoding":{"x":{"field":"mx","type":"quantitative","scale":{"domain":[0,15]},"axis":null},"x2":{"field":"mx2"},"y":{"field":"my","type":"quantitative","scale":{"domain":[-0.046,15],"reverse":true},"axis":null},"y2":{"field":"my2"}},"layer":[
{"mark":{"type":"rule","clip":true,"strokeCap":"square","strokeWidth":21.6},"encoding":{"color":{"datum":0.1}}},
{"mark":{"type":"rule","clip":true,"strokeCap":"square","strokeWidth":17.28},"encoding":{"color":{"datum":0.2}}},
{"mark":{"type":"rule","clip":true,"strokeCap":"square","strokeWidth":12.96},"encoding":{"color":{"datum":0.3}}},
{"mark":{"type":"rule","clip":true,"strokeCap":"square","strokeWidth":8.64},"encoding":{"color":{"datum":0.4}}},
{"mark":{"type":"rule","clip":true,"strokeCap":"square","strokeWidth":4.32},"encoding":{"color":{"datum":0.5}}}
]},
{"data":{"name":"bnest"},"mark":{"type":"rect","clip":true},"encoding":{"x":{"field":"l","type":"quantitative","scale":{"domain":[0,15]},"axis":null},"x2":{"field":"r"},"y":{"field":"t","type":"quantitative","scale":{"domain":[-0.046,15],"reverse":true},"axis":null},"y2":{"field":"b"},"color":{"field":"v","type":"quantitative"}}},
{"data":{"values":[{"x":7.5,"y":16.62,"t":"obstacle(in:1, out:-1)"}]},"mark":{"type":"text","font":"Liberation Mono","fontSize":25,"align":"center","baseline":"alphabetic","color":"#000"},"encoding":{"x":{"field":"x","type":"quantitative","scale":{"domain":[0,15]},"axis":null},"y":{"field":"y","type":"quantitative","scale":{"domain":[-0.046,15],"reverse":true},"axis":null},"text":{"field":"t"}}},
{"data":{"values":[{"x":2.36,"y":18.68,"t":"(b)"}]},"mark":{"type":"text","font":"Liberation Serif","fontWeight":"bold","fontSize":27,"align":"left","baseline":"alphabetic","color":"#000"},"encoding":{"x":{"field":"x","type":"quantitative","scale":{"domain":[0,15]},"axis":null},"y":{"field":"y","type":"quantitative","scale":{"domain":[-0.046,15],"reverse":true},"axis":null},"text":{"field":"t"}}},
{"data":{"values":[{"x":4.84,"y":18.68,"t":"Obstacle SDF."}]},"mark":{"type":"text","font":"Liberation Serif","fontSize":27,"align":"left","baseline":"alphabetic","color":"#000"},"encoding":{"x":{"field":"x","type":"quantitative","scale":{"domain":[0,15]},"axis":null},"y":{"field":"y","type":"quantitative","scale":{"domain":[-0.046,15],"reverse":true},"axis":null},"text":{"field":"t"}}}
]},
{"width":318,"height":325,"view":{"fill":"#ff00ff"},"layer":[
{"data":{"name":"path"},"encoding":{"x":{"field":"x","type":"quantitative","scale":{"domain":[0,14.722]},"axis":null},"y":{"field":"y","type":"quantitative","scale":{"domain":[-0.046,15],"reverse":true},"axis":null},"order":{"field":"i"}},"layer":[
{"mark":{"type":"line","clip":true,"strokeJoin":"round","strokeCap":"round","strokeWidth":220.32},"encoding":{"color":{"datum":-4.375,"scale":{"domain":[-4,-3,-2,-1,0,1,2,3],"range":["#ff00ff","#ff0090","#ff0000","#ffa000","#ffffff","#0088ff","#00ffff","#00ff66"],"clamp":true,"interpolate":"rgb"}}}},
{"mark":{"type":"line","clip":true,"strokeJoin":"round","strokeCap":"round","strokeWidth":209.52},"encoding":{"color":{"datum":-4.125}}},
{"mark":{"type":"line","clip":true,"strokeJoin":"round","strokeCap":"round","strokeWidth":198.72},"encoding":{"color":{"datum":-3.875}}},
{"mark":{"type":"line","clip":true,"strokeJoin":"round","strokeCap":"round","strokeWidth":187.92},"encoding":{"color":{"datum":-3.625}}},
{"mark":{"type":"line","clip":true,"strokeJoin":"round","strokeCap":"round","strokeWidth":177.12},"encoding":{"color":{"datum":-3.375}}},
{"mark":{"type":"line","clip":true,"strokeJoin":"round","strokeCap":"round","strokeWidth":166.32},"encoding":{"color":{"datum":-3.125}}},
{"mark":{"type":"line","clip":true,"strokeJoin":"round","strokeCap":"round","strokeWidth":155.52},"encoding":{"color":{"datum":-2.875}}},
{"mark":{"type":"line","clip":true,"strokeJoin":"round","strokeCap":"round","strokeWidth":144.72},"encoding":{"color":{"datum":-2.625}}},
{"mark":{"type":"line","clip":true,"strokeJoin":"round","strokeCap":"round","strokeWidth":133.92},"encoding":{"color":{"datum":-2.375}}},
{"mark":{"type":"line","clip":true,"strokeJoin":"round","strokeCap":"round","strokeWidth":123.12},"encoding":{"color":{"datum":-2.125}}},
{"mark":{"type":"line","clip":true,"strokeJoin":"round","strokeCap":"round","strokeWidth":112.32},"encoding":{"color":{"datum":-1.9375}}},
{"mark":{"type":"line","clip":true,"strokeJoin":"round","strokeCap":"round","strokeWidth":106.92},"encoding":{"color":{"datum":-1.8125}}},
{"mark":{"type":"line","clip":true,"strokeJoin":"round","strokeCap":"round","strokeWidth":101.52},"encoding":{"color":{"datum":-1.6875}}},
{"mark":{"type":"line","clip":true,"strokeJoin":"round","strokeCap":"round","strokeWidth":96.12},"encoding":{"color":{"datum":-1.5625}}},
{"mark":{"type":"line","clip":true,"strokeJoin":"round","strokeCap":"round","strokeWidth":90.72},"encoding":{"color":{"datum":-1.4375}}},
{"mark":{"type":"line","clip":true,"strokeJoin":"round","strokeCap":"round","strokeWidth":85.32},"encoding":{"color":{"datum":-1.3125}}},
{"mark":{"type":"line","clip":true,"strokeJoin":"round","strokeCap":"round","strokeWidth":79.92},"encoding":{"color":{"datum":-1.1875}}},
{"mark":{"type":"line","clip":true,"strokeJoin":"round","strokeCap":"round","strokeWidth":74.52},"encoding":{"color":{"datum":-1.0625}}},
{"mark":{"type":"line","clip":true,"strokeJoin":"round","strokeCap":"round","strokeWidth":69.12},"encoding":{"color":{"datum":-0.9375}}},
{"mark":{"type":"line","clip":true,"strokeJoin":"round","strokeCap":"round","strokeWidth":63.72},"encoding":{"color":{"datum":-0.8125}}},
{"mark":{"type":"line","clip":true,"strokeJoin":"round","strokeCap":"round","strokeWidth":58.32},"encoding":{"color":{"datum":-0.6875}}},
{"mark":{"type":"line","clip":true,"strokeJoin":"round","strokeCap":"round","strokeWidth":52.92},"encoding":{"color":{"datum":-0.5625}}},
{"mark":{"type":"line","clip":true,"strokeJoin":"round","strokeCap":"round","strokeWidth":47.52},"encoding":{"color":{"datum":-0.4375}}},
{"mark":{"type":"line","clip":true,"strokeJoin":"round","strokeCap":"round","strokeWidth":42.12},"encoding":{"color":{"datum":-0.3125}}},
{"mark":{"type":"line","clip":true,"strokeJoin":"round","strokeCap":"round","strokeWidth":36.72},"encoding":{"color":{"datum":-0.1875}}},
{"mark":{"type":"line","clip":true,"strokeJoin":"round","strokeCap":"round","strokeWidth":31.32},"encoding":{"color":{"datum":-0.0625}}},
{"mark":{"type":"line","clip":true,"strokeJoin":"miter","strokeCap":"square","strokeWidth":25.92},"encoding":{"color":{"datum":0}}},
{"mark":{"type":"line","clip":true,"strokeJoin":"miter","strokeCap":"square","strokeWidth":21.6},"encoding":{"color":{"datum":0.1}}},
{"mark":{"type":"line","clip":true,"strokeJoin":"miter","strokeCap":"square","strokeWidth":17.28},"encoding":{"color":{"datum":0.2}}},
{"mark":{"type":"line","clip":true,"strokeJoin":"miter","strokeCap":"square","strokeWidth":12.96},"encoding":{"color":{"datum":0.3}}},
{"mark":{"type":"line","clip":true,"strokeJoin":"miter","strokeCap":"square","strokeWidth":8.64},"encoding":{"color":{"datum":0.4}}},
{"mark":{"type":"line","clip":true,"strokeJoin":"miter","strokeCap":"square","strokeWidth":4.32},"encoding":{"color":{"datum":0.5}}}
]},
{"data":{"name":"cnest"},"mark":{"type":"rect","clip":true},"encoding":{"x":{"field":"l","type":"quantitative","scale":{"domain":[0,14.722]},"axis":null},"x2":{"field":"r"},"y":{"field":"t","type":"quantitative","scale":{"domain":[-0.046,15],"reverse":true},"axis":null},"y2":{"field":"b"},"color":{"field":"v","type":"quantitative"}}},
{"data":{"values":[{"x":7.5,"y":16.62,"t":"path(in:1, out:-1)"}]},"mark":{"type":"text","font":"Liberation Mono","fontSize":25,"align":"center","baseline":"alphabetic","color":"#000"},"encoding":{"x":{"field":"x","type":"quantitative","scale":{"domain":[0,14.722]},"axis":null},"y":{"field":"y","type":"quantitative","scale":{"domain":[-0.046,15],"reverse":true},"axis":null},"text":{"field":"t"}}},
{"data":{"values":[{"x":3.52,"y":18.68,"t":"(c)"}]},"mark":{"type":"text","font":"Liberation Serif","fontWeight":"bold","fontSize":27,"align":"left","baseline":"alphabetic","color":"#000"},"encoding":{"x":{"field":"x","type":"quantitative","scale":{"domain":[0,14.722]},"axis":null},"y":{"field":"y","type":"quantitative","scale":{"domain":[-0.046,15],"reverse":true},"axis":null},"text":{"field":"t"}}},
{"data":{"values":[{"x":5.69,"y":18.68,"t":"Path SDF."}]},"mark":{"type":"text","font":"Liberation Serif","fontSize":27,"align":"left","baseline":"alphabetic","color":"#000"},"encoding":{"x":{"field":"x","type":"quantitative","scale":{"domain":[0,14.722]},"axis":null},"y":{"field":"y","type":"quantitative","scale":{"domain":[-0.046,15],"reverse":true},"axis":null},"text":{"field":"t"}}}
]}
]}
